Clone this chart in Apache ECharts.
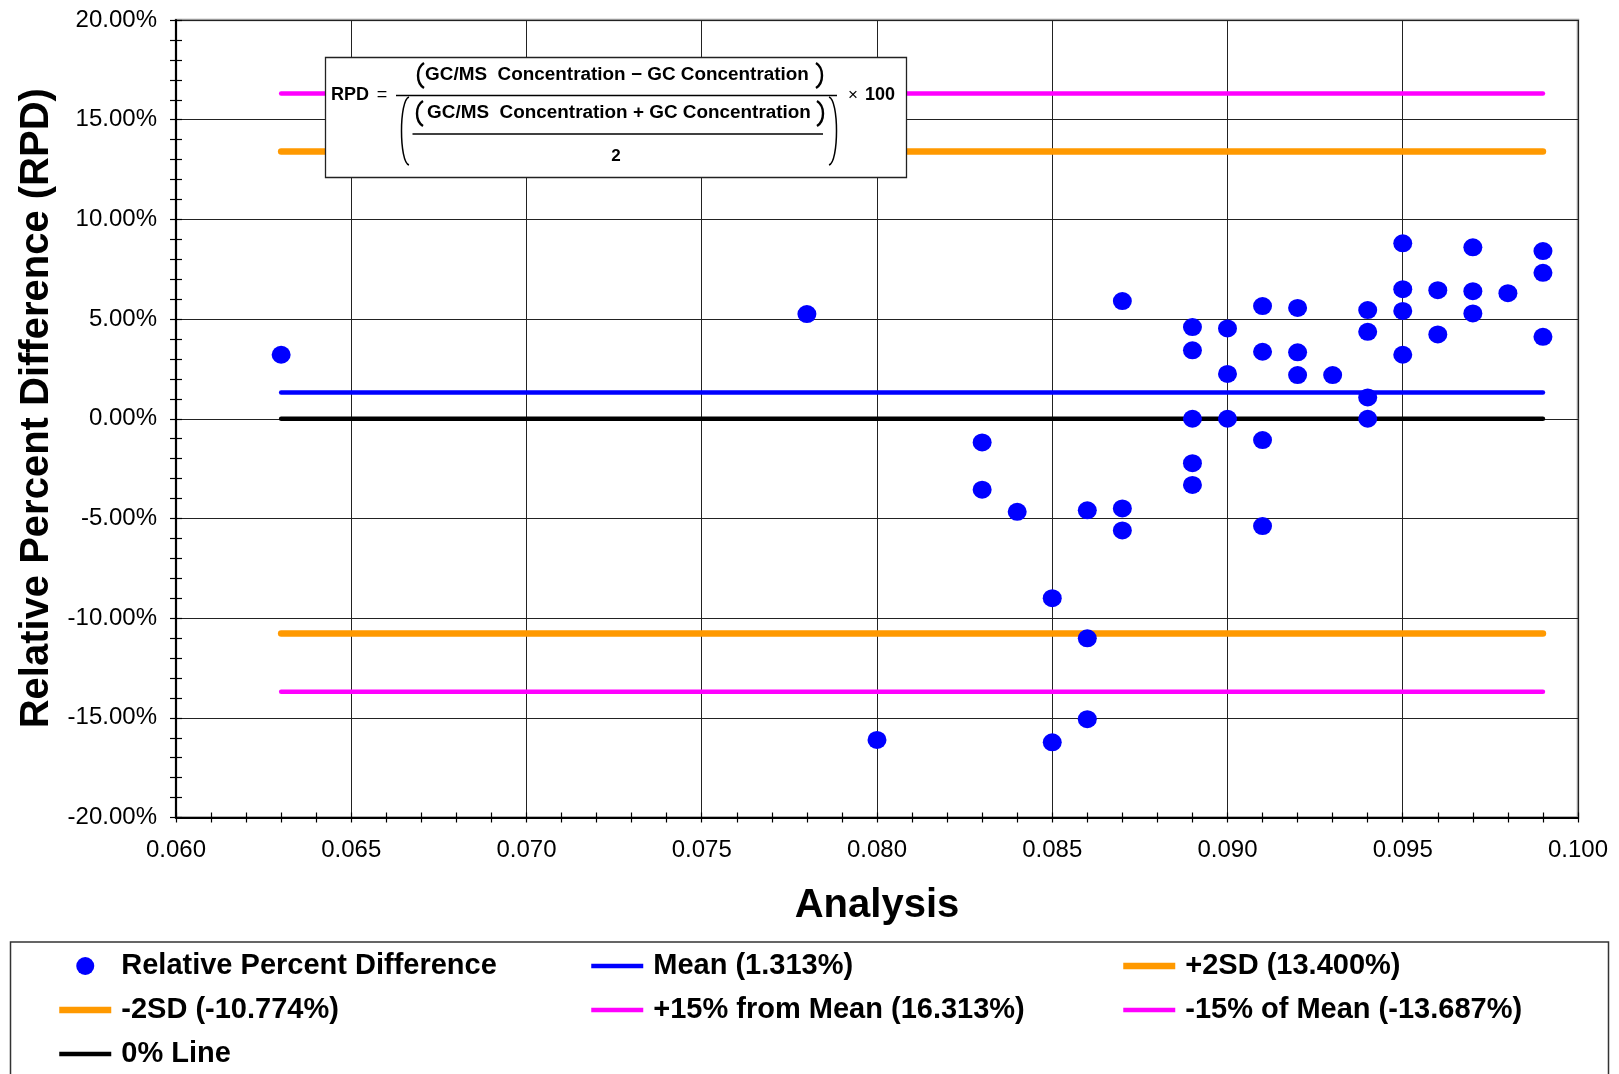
<!DOCTYPE html>
<html>
<head>
<meta charset="utf-8">
<title>Relative Percent Difference</title>
<script src="https://cdn.jsdelivr.net/npm/echarts@6/dist/echarts.min.js"></script>
<style>
  html, body { margin: 0; padding: 0; background: #ffffff; }
  #chart { width: 1619px; height: 1074px; }
</style>
</head>
<body>
<div id="chart"></div>
<script>
// Analysis level of each sample (x)
const analysisX = [
  0.063, 0.078, 0.080,
  0.083, 0.083,
  0.084,
  0.085, 0.085,
  0.086, 0.086, 0.086,
  0.087, 0.087, 0.087,
  0.089, 0.089, 0.089, 0.089, 0.089,
  0.090, 0.090, 0.090,
  0.091, 0.091, 0.091, 0.091,
  0.092, 0.092, 0.092,
  0.093,
  0.094, 0.094, 0.094, 0.094,
  0.095, 0.095, 0.095, 0.095,
  0.096, 0.096,
  0.097, 0.097, 0.097,
  0.098,
  0.099, 0.099, 0.099
];

// Relative percent difference (%) of each sample, same order as analysisX
const rpdValues = [
  3.21, 5.25, -16.11,
  -1.19, -3.56,
  -4.67,
  -9.00, -16.23,
  -4.59, -11.01, -15.07,
  5.90, -4.50, -5.60,
  4.60, 3.43, 0.00, -2.23, -3.32,
  4.53, 2.25, 0.00,
  5.65, 3.36, -1.07, -5.38,
  5.56, 3.33, 2.19,
  2.19,
  5.45, 4.36, 1.07, 0.00,
  8.80, 6.50, 5.41, 3.21,
  6.45, 4.23,
  8.60, 6.40, 5.28,
  6.30,
  8.41, 7.32, 4.11
];

// Control limits (%)
const meanValue = 1.313;
const plus2SD = 13.400;
const minus2SD = -10.774;
const plusFifteen = 16.313;
const minusFifteen = -13.687;
const zeroLine = 0;

// Axis ranges
const xRange = { min: 0.060, max: 0.100, interval: 0.005 };
const yRange = { min: -20, max: 20, interval: 5 };

const FONT = "'Liberation Sans', Arial, Helvetica, sans-serif";

const points = analysisX.map((x, i) => [x, rpdValues[i]]);
const xStart = Math.min(...analysisX);
const xEnd = Math.max(...analysisX);
const pct = v => v.toFixed(3) + '%';

const refLines = [
  { name: `Mean (${pct(meanValue)})`, value: meanValue, color: '#0000FF', width: 4.5 },
  { name: `+2SD (${pct(plus2SD)})`, value: plus2SD, color: '#FF9900', width: 6.5 },
  { name: `-2SD (${pct(minus2SD)})`, value: minus2SD, color: '#FF9900', width: 6.5 },
  { name: `+15% from Mean (${pct(plusFifteen)})`, value: plusFifteen, color: '#FF00FF', width: 4.5 },
  { name: `-15% of Mean (${pct(minusFifteen)})`, value: minusFifteen, color: '#FF00FF', width: 4.5 },
  { name: '0% Line', value: zeroLine, color: '#000000', width: 4.5 }
];
const scatterName = 'Relative Percent Difference';

const series = [
  ...refLines.map(r => ({
    name: r.name,
    type: 'line',
    data: [[xStart, r.value], [xEnd, r.value]],
    symbol: 'none',
    showSymbol: false,
    silent: true,
    z: 3,
    lineStyle: { color: r.color, width: r.width, cap: 'round' },
    itemStyle: { color: r.color }
  })),
  {
    name: scatterName,
    type: 'scatter',
    data: points,
    symbol: 'circle',
    symbolSize: [19, 18],
    z: 5,
    itemStyle: { color: '#0000FF', opacity: 1 }
  }
];

// Formula annotation: RPD = (A - B) / ((A + B) / 2) x 100
function formulaElements() {
  const bold = s => `bold ${s}px ${FONT}`;
  const reg = s => `${s}px ${FONT}`;
  const Z = 100;
  const txt = (text, x, y, font, align, sx) => ({
    type: 'text', x, y, z: Z + 1, scaleX: sx || 1,
    style: { text, font, fill: '#000', align: align || 'center', verticalAlign: 'middle' }
  });
  const curve = (x1, y1, c1x, c1y, c2x, c2y, x2, y2, w) => ({
    type: 'bezierCurve', z: Z + 1,
    shape: { x1, y1, cpx1: c1x, cpy1: c1y, cpx2: c2x, cpy2: c2y, x2, y2 },
    style: { stroke: '#000', fill: null, lineWidth: w }
  });
  const hline = (x1, x2, y, w) => ({
    type: 'line', z: Z + 1,
    shape: { x1, y1: y, x2, y2: y },
    style: { stroke: '#000', lineWidth: w }
  });
  return [
    { type: 'rect', z: Z, shape: { x: 325.5, y: 57.5, width: 581, height: 120 },
      style: { fill: '#ffffff', stroke: '#222', lineWidth: 1.3 } },
    txt('RPD', 331, 95, bold(18), 'left'),
    txt('=', 382, 95, reg(18)),
    hline(396, 837, 95.5, 1.3),
    // numerator
    curve(424, 63, 416, 68, 416, 83, 424, 88, 2.4),
    txt('GC/MS  Concentration \u2212 GC Concentration', 617, 75, bold(18), 'center', 1.05),
    curve(816, 63, 824, 68, 824, 83, 816, 88, 2.4),
    // denominator
    curve(409, 97, 399, 100, 399, 162, 409, 165, 1.5),
    curve(423, 101, 415, 106, 415, 121, 423, 126, 2.4),
    txt('GC/MS  Concentration + GC Concentration', 619, 113, bold(18), 'center', 1.05),
    curve(817, 101, 825, 106, 825, 121, 817, 126, 2.4),
    hline(412.5, 823, 134, 1.3),
    txt('2', 616, 156, bold(17)),
    curve(829, 97, 839, 100, 839, 162, 829, 165, 1.5),
    txt('\u00d7', 853, 95, reg(17)),
    txt('100', 880, 95, bold(18))
  ];
}

// Legend entries for the reference lines show only the line, no dot
const lineEntry = name => ({ name, itemStyle: { opacity: 0 } });

const legendBase = {
  orient: 'vertical',
  padding: 0,
  itemWidth: 52,
  itemHeight: 18,
  itemGap: 15,
  top: 951.5,
  selectedMode: false,
  lineStyle: { width: 'inherit', cap: 'butt' },
  textStyle: { fontSize: 29, fontWeight: 'bold', color: '#000', fontFamily: FONT, padding: [0, 0, 0, 5] }
};

const xCommon = {
  type: 'value', gridIndex: 0, position: 'bottom',
  min: xRange.min, max: xRange.max, interval: xRange.interval
};
const yCommon = {
  type: 'value', gridIndex: 0, position: 'left',
  min: yRange.min, max: yRange.max, interval: yRange.interval
};

const option = {
  backgroundColor: '#ffffff',
  animation: false,
  textStyle: { fontFamily: FONT },
  grid: {
    left: 176, right: 41, top: 20, bottom: 256.5,
    show: true, borderColor: '#999', borderWidth: 2.5, backgroundColor: 'transparent'
  },
  xAxis: [
    Object.assign({}, xCommon, {
      name: 'Analysis', nameLocation: 'middle', nameGap: 68,
      nameTextStyle: { fontSize: 40, fontWeight: 'bold', color: '#000', fontFamily: FONT },
      axisLine: { show: true, onZero: false, lineStyle: { color: '#000', width: 2 } },
      axisTick: { show: true, inside: false, length: 5, lineStyle: { color: '#000', width: 1.2 } },
      minorTick: { show: true, splitNumber: 5, length: 5, lineStyle: { color: '#000', width: 1.2 } },
      splitLine: { show: true, lineStyle: { color: '#222', width: 1 } },
      axisLabel: { formatter: v => v.toFixed(3), fontSize: 24, color: '#000', margin: 21, fontFamily: FONT }
    }),
    Object.assign({}, xCommon, {
      axisLine: { show: false, onZero: false },
      axisTick: { show: true, inside: true, length: 5, lineStyle: { color: '#000', width: 1.2 } },
      minorTick: { show: true, splitNumber: 5, length: 5, lineStyle: { color: '#000', width: 1.2 } },
      splitLine: { show: false },
      axisLabel: { show: false }
    })
  ],
  yAxis: [
    Object.assign({}, yCommon, {
      name: 'Relative Percent Difference (RPD)', nameLocation: 'middle', nameGap: 117,
      nameTextStyle: { fontSize: 40, fontWeight: 'bold', color: '#000', fontFamily: FONT, padding: [0, 0, 0, 21] },
      axisLine: { show: true, onZero: false, lineStyle: { color: '#000', width: 2 } },
      axisTick: { show: true, inside: false, length: 6, lineStyle: { color: '#000', width: 1.2 } },
      minorTick: { show: true, splitNumber: 5, length: 6, lineStyle: { color: '#000', width: 1.2 } },
      splitLine: { show: true, lineStyle: { color: '#222', width: 1 } },
      axisLabel: { formatter: v => v.toFixed(2) + '%', fontSize: 24, color: '#000', margin: 19, fontFamily: FONT }
    }),
    Object.assign({}, yCommon, {
      axisLine: { show: false, onZero: false },
      axisTick: { show: true, inside: true, length: 6, lineStyle: { color: '#000', width: 1.2 } },
      minorTick: { show: true, splitNumber: 5, length: 6, lineStyle: { color: '#000', width: 1.2 } },
      splitLine: { show: false },
      axisLabel: { show: false }
    })
  ],
  legend: [
    Object.assign({}, legendBase, { left: 56, data: [scatterName, lineEntry(refLines[2].name), lineEntry(refLines[5].name)] }),
    Object.assign({}, legendBase, { left: 589, data: [lineEntry(refLines[0].name), lineEntry(refLines[3].name)] }),
    Object.assign({}, legendBase, { left: 1120, data: [lineEntry(refLines[1].name), lineEntry(refLines[4].name)] })
  ],
  graphic: {
    elements: [
      { type: 'rect', z: 1, silent: true,
        shape: { x: 10.5, y: 942, width: 1598, height: 200 },
        style: { fill: null, stroke: '#333', lineWidth: 1.5 } },
      ...formulaElements()
    ]
  },
  series
};

const chart = echarts.init(document.getElementById('chart'), null, { renderer: 'canvas' });
chart.setOption(option);
</script>
</body>
</html>
